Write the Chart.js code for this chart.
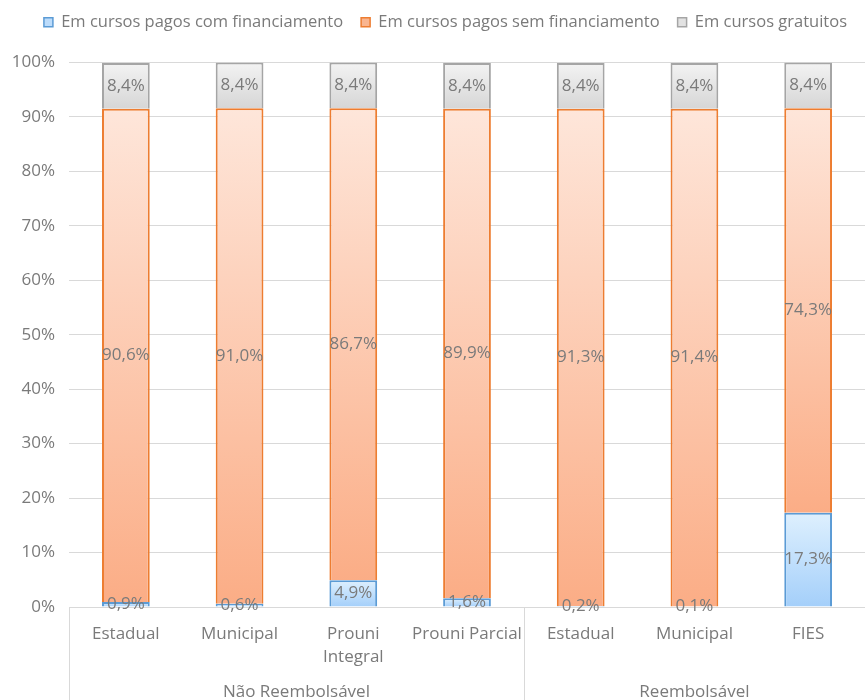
<!DOCTYPE html>
<html lang="pt-BR">
<head>
<meta charset="utf-8">
<title>Distribuição por tipo de curso</title>
<script src="https://cdn.jsdelivr.net/npm/chart.js@4.4.1/dist/chart.umd.min.js"></script>
<style>
  html, body { margin: 0; padding: 0; background: #fff; }
  #grafico { display: block; }
</style>
</head>
<body>
<canvas id="grafico" width="865" height="700"></canvas>
<script>
// Categorias e grupos do eixo X
const categorias = [['Estadual'], ['Municipal'], ['Prouni', 'Integral'], ['Prouni Parcial'], ['Estadual'], ['Municipal'], ['FIES']];
const grupos = [
  { nome: 'Não Reembolsável', inicio: 0, fim: 3 },
  { nome: 'Reembolsável', inicio: 4, fim: 6 }
];

// Séries (%)
const comFinanciamento = [0.9, 0.6, 4.9, 1.6, 0.2, 0.1, 17.3];
const semFinanciamento = [90.6, 91.0, 86.7, 89.9, 91.3, 91.4, 74.3];
const gratuitos = [8.4, 8.4, 8.4, 8.4, 8.4, 8.4, 8.4];

const fonte = "'Open Sans', sans-serif";
const corTexto = '#7a7a7a';

// cores: [topo do gradiente, base do gradiente, caixa da legenda]
const coresAzul = ['#def0fe', '#a4cffa', '#bcdcfb'];
const coresLaranja = ['#fee6da', '#fbad86', '#f9b590'];
const coresCinza = ['#f3f3f3', '#d6d6d6', '#e2e2e2'];

// ==================== Funções Auxiliares ====================
function formatarPct(v) {
  return v.toFixed(1).replace('.', ',') + '%';
}

// Gradiente vertical em cada segmento (claro em cima, mais forte embaixo)
function gradienteSegmento(base, cores) {
  return (c) => {
    const chart = c.chart;
    if (!chart.chartArea || c.dataIndex === undefined) return cores[2];
    const y = chart.scales.y;
    const b = base(c.dataIndex);
    const v = c.dataset.data[c.dataIndex];
    const yTopo = y.getPixelForValue(b + v);
    const yBase = y.getPixelForValue(b);
    if (!isFinite(yTopo) || !isFinite(yBase) || yTopo === yBase) return cores[1];
    const g = chart.ctx.createLinearGradient(0, yTopo, 0, yBase);
    g.addColorStop(0, cores[0]);
    g.addColorStop(1, cores[1]);
    return g;
  };
}

// Legenda um pouco mais alta e com espaço até a área do gráfico
const margemLegenda = {
  id: 'margemLegenda',
  beforeInit(chart) {
    const fitOriginal = chart.legend.fit;
    chart.legend.fit = function () {
      fitOriginal.bind(chart.legend)();
      this.height += 14;
    };
  },
  beforeDraw(chart) {
    chart.legend.top -= 8;
  }
};

// Rótulos de valor no meio de cada segmento
const rotulos = {
  id: 'rotulos',
  afterDatasetsDraw(chart) {
    const ctx = chart.ctx;
    ctx.save();
    ctx.font = '17px ' + fonte;
    ctx.fillStyle = corTexto;
    ctx.textAlign = 'center';
    ctx.textBaseline = 'middle';
    chart.data.datasets.forEach((ds, i) => {
      chart.getDatasetMeta(i).data.forEach((bar, j) => {
        const meio = (bar.y + bar.base) / 2;
        ctx.fillText(formatarPct(ds.data[j]), bar.x, meio);
      });
    });
    ctx.restore();
  }
};

// Segundo nível do eixo X: linhas divisórias e nomes dos grupos
const eixoGrupos = {
  id: 'eixoGrupos',
  afterDraw(chart) {
    const ctx = chart.ctx;
    const x = chart.scales.x;
    const y = chart.scales.y;
    const passo = x.getPixelForValue(1) - x.getPixelForValue(0);
    ctx.save();
    ctx.strokeStyle = '#d9d9d9';
    ctx.lineWidth = 1;
    const limites = [x.left];
    grupos.forEach(g => limites.push(x.getPixelForValue(g.fim) + passo / 2));
    limites.forEach(px => {
      const xx = Math.round(px) + 0.5;
      ctx.beginPath();
      ctx.moveTo(xx, y.bottom);
      ctx.lineTo(xx, chart.height);
      ctx.stroke();
    });
    ctx.font = '17px ' + fonte;
    ctx.fillStyle = corTexto;
    ctx.textAlign = 'center';
    ctx.textBaseline = 'middle';
    grupos.forEach(g => {
      const cx = (x.getPixelForValue(g.inicio) + x.getPixelForValue(g.fim)) / 2;
      ctx.fillText(g.nome, cx, 692);
    });
    ctx.restore();
  }
};

const baseAzul = () => 0;
const baseLaranja = (i) => comFinanciamento[i];
const baseCinza = (i) => comFinanciamento[i] + semFinanciamento[i];
const caixasLegenda = [coresAzul[2], coresLaranja[2], coresCinza[2]];

// ==================== Gráfico ====================
const ctx = document.getElementById('grafico').getContext('2d');
new Chart(ctx, {
  type: 'bar',
  data: {
    labels: categorias,
    datasets: [{
      label: 'Em cursos pagos com financiamento',
      data: comFinanciamento,
      backgroundColor: gradienteSegmento(baseAzul, coresAzul),
      borderColor: '#5b9bd5',
      borderWidth: 2
    }, {
      label: 'Em cursos pagos sem financiamento',
      data: semFinanciamento,
      backgroundColor: gradienteSegmento(baseLaranja, coresLaranja),
      borderColor: '#ed7d31',
      borderWidth: 2
    }, {
      label: 'Em cursos gratuitos',
      data: gratuitos,
      backgroundColor: gradienteSegmento(baseCinza, coresCinza),
      borderColor: '#a5a5a5',
      borderWidth: 2
    }]
  },
  options: {
    responsive: false,
    animation: false,
    layout: { padding: { top: 4, right: 0, bottom: 0, left: 0 } },
    datasets: {
      bar: { categoryPercentage: 1, barPercentage: 0.42 }
    },
    plugins: {
      legend: {
        position: 'top',
        align: 'end',
        labels: {
          boxWidth: 9,
          boxHeight: 9,
          padding: 18,
          color: corTexto,
          font: { family: fonte, size: 16.5 },
          generateLabels(chart) {
            const itens = Chart.defaults.plugins.legend.labels.generateLabels(chart);
            itens.forEach((it, i) => { it.fillStyle = caixasLegenda[i]; it.lineWidth = 1.5; });
            return itens;
          }
        }
      },
      tooltip: { enabled: false }
    },
    scales: {
      x: {
        stacked: true,
        grid: { display: false },
        border: { color: '#d9d9d9' },
        ticks: {
          color: corTexto,
          padding: 8,
          maxRotation: 0,
          autoSkip: false,
          font: { family: fonte, size: 17, lineHeight: 1.35 }
        },
        afterFit(scale) { scale.height = 93; }
      },
      y: {
        stacked: true,
        min: 0,
        max: 100,
        grid: { color: '#d9d9d9', drawTicks: false },
        border: { display: false },
        ticks: {
          stepSize: 10,
          color: corTexto,
          padding: 14,
          font: { family: fonte, size: 17 },
          callback: (v) => v + '%'
        },
        afterFit(scale) { scale.width = 69; }
      }
    }
  },
  plugins: [margemLegenda, rotulos, eixoGrupos]
});
</script>
</body>
</html>
